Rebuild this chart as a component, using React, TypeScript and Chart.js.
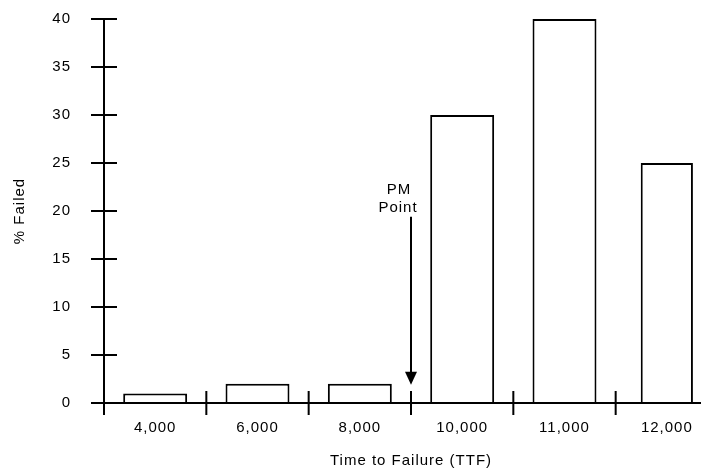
import React, { useEffect, useRef } from 'react';
import { Chart, registerables } from 'chart.js';

Chart.register(...registerables);

const categories = ['4,000', '6,000', '8,000', '10,000', '11,000', '12,000'];
const percentFailed = [1, 2, 2, 30, 40, 25];
const yTickValues = [0, 5, 10, 15, 20, 25, 30, 35, 40];
const pmLabelLines = ['PM', 'Point'];
const pmArrowFrom = 19.4;
const pmArrowTo = 1.9;
const pmBetween = [2, 3];

const FONT = '"Liberation Sans", Arial, sans-serif';
const FONT_SIZE = 15;

export default function App() {
  const ref = useRef<HTMLCanvasElement>(null);

  useEffect(() => {
    const canvas = ref.current!;
    const setSpacing = (chart: any) => {
      (chart.ctx as any).letterSpacing = '1px';
    };
    const lastIdx = categories.length - 1;
    const mainValues = percentFailed.map((v, i) => (i === lastIdx ? null : v));
    const lastValues = percentFailed.map((v, i) => (i === lastIdx ? v : null));

    const axesPlugin = {
      id: 'manualAxes',
      beforeUpdate: setSpacing,
      beforeLayout: setSpacing,
      beforeDraw: setSpacing,
      afterDatasetsDraw(chart: any) {
        const { ctx, chartArea } = chart;
        const x = chart.scales.x;
        const y = chart.scales.y;
        const y0 = y.getPixelForValue(0);
        const yTop = y.getPixelForValue(y.max);
        const left = chartArea.left;
        const tickHalf = 13;
        const xTickHalf = 12;
        ctx.save();
        ctx.strokeStyle = '#000';
        ctx.lineWidth = 2;
        ctx.beginPath();
        ctx.moveTo(left, yTop);
        ctx.lineTo(left, y0 + xTickHalf);
        ctx.moveTo(left - tickHalf, y0);
        ctx.lineTo(chart.width, y0);
        y.ticks.forEach((t: any) => {
          const py = y.getPixelForValue(t.value);
          ctx.moveTo(left - tickHalf, py);
          ctx.lineTo(left + tickHalf, py);
        });
        for (let i = 1; i < categories.length; i++) {
          const px = (x.getPixelForValue(i - 1) + x.getPixelForValue(i)) / 2;
          ctx.moveTo(px, y0 - xTickHalf);
          ctx.lineTo(px, y0 + xTickHalf);
        }
        ctx.stroke();

        const ax = (x.getPixelForValue(pmBetween[0]) + x.getPixelForValue(pmBetween[1])) / 2;
        const aTop = y.getPixelForValue(pmArrowFrom);
        const aTip = y.getPixelForValue(pmArrowTo);
        const headLen = 13;
        const headHalf = 6;
        ctx.beginPath();
        ctx.moveTo(ax, aTop);
        ctx.lineTo(ax, aTip - headLen + 1);
        ctx.stroke();
        ctx.beginPath();
        ctx.moveTo(ax - headHalf, aTip - headLen);
        ctx.lineTo(ax + headHalf, aTip - headLen);
        ctx.lineTo(ax, aTip);
        ctx.closePath();
        ctx.fillStyle = '#000';
        ctx.fill();

        ctx.font = `${FONT_SIZE}px ${FONT}`;
        ctx.textAlign = 'center';
        ctx.textBaseline = 'middle';
        ctx.fillText(pmLabelLines[0], ax - 12, aTop - 27);
        ctx.fillText(pmLabelLines[1], ax - 13, aTop - 9);
        ctx.restore();
      },
    };

    const chart = new Chart(canvas, {
      type: 'bar',
      data: {
        labels: categories,
        datasets: [
          {
            data: mainValues,
            backgroundColor: '#fff',
            borderColor: '#000',
            borderWidth: 2,
            barPercentage: 0.625,
            categoryPercentage: 1,
            grouped: false,
          },
          {
            data: lastValues,
            backgroundColor: '#fff',
            borderColor: '#000',
            borderWidth: 2,
            barPercentage: 0.51,
            categoryPercentage: 1,
            grouped: false,
          },
        ],
      } as any,
      options: {
        animation: false,
        responsive: false,
        maintainAspectRatio: false,
        layout: { padding: { top: 11, left: 0, right: 0, bottom: 0 } },
        plugins: { legend: { display: false }, tooltip: { enabled: false } },
        scales: {
          x: {
            type: 'category',
            offset: true,
            grid: { display: false, drawTicks: true, tickLength: 16 },
            border: { display: false },
            ticks: {
              color: '#000',
              font: { family: FONT, size: FONT_SIZE },
              padding: 0,
              maxRotation: 0,
              autoSkip: false,
            },
            title: {
              display: true,
              text: 'Time to Failure (TTF)',
              color: '#000',
              font: { family: FONT, size: FONT_SIZE },
              padding: { top: 1, bottom: 1 },
            },
            afterFit: (s: any) => {
              s.height = 68;
            },
          },
          y: {
            min: 0,
            max: 40,
            grid: { display: false, drawTicks: true, tickLength: 33 },
            border: { display: false },
            ticks: {
              color: '#000',
              font: { family: FONT, size: FONT_SIZE },
              padding: 0,
            },
            afterBuildTicks: (s: any) => {
              s.ticks = yTickValues.map((v) => ({ value: v }));
            },
            title: {
              display: true,
              text: '% Failed',
              color: '#000',
              font: { family: FONT, size: FONT_SIZE },
              padding: { top: 3, bottom: 3 },
            },
            afterFit: (s: any) => {
              s.width = 96;
            },
          },
        },
      } as any,
      plugins: [axesPlugin],
    });
    return () => chart.destroy();
  }, []);

  return (
    <div style={{ width: 701, height: 463, overflow: 'hidden' }}>
      <canvas ref={ref} width={710} height={463} style={{ display: 'block', width: 710, height: 463 }} />
    </div>
  );
}
